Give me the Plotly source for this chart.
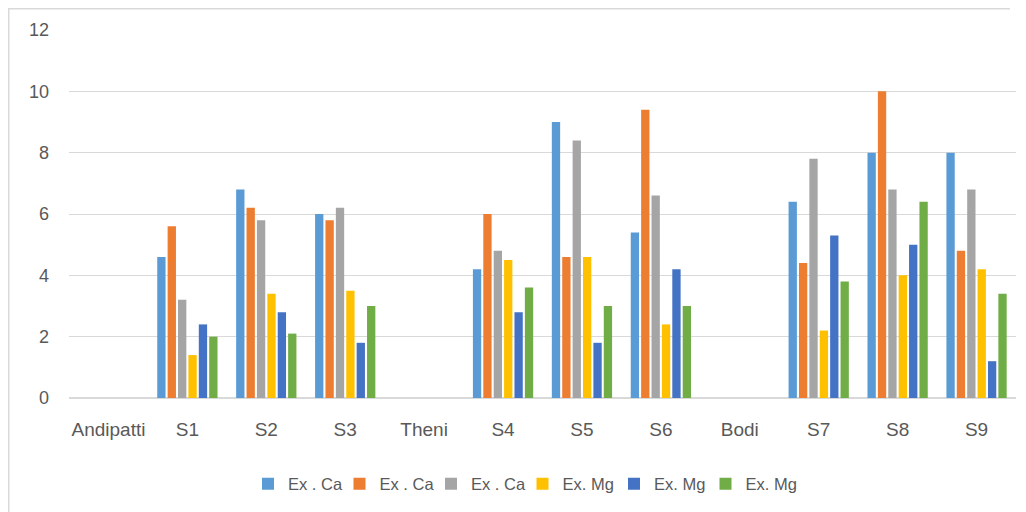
import plotly.graph_objects as go

categories = ["Andipatti", "S1", "S2", "S3", "Theni", "S4", "S5", "S6", "Bodi", "S7", "S8", "S9"]
series_names = ["Ex . Ca", "Ex . Ca", "Ex . Ca", "Ex. Mg", "Ex. Mg", "Ex. Mg"]
ca_1 = [None, 4.6, 6.8, 6.0, None, 4.2, 9.0, 5.4, None, 6.4, 8.0, 8.0]
ca_2 = [None, 5.6, 6.2, 5.8, None, 6.0, 4.6, 9.4, None, 4.4, 10.0, 4.8]
ca_3 = [None, 3.2, 5.8, 6.2, None, 4.8, 8.4, 6.6, None, 7.8, 6.8, 6.8]
mg_1 = [None, 1.4, 3.4, 3.5, None, 4.5, 4.6, 2.4, None, 2.2, 4.0, 4.2]
mg_2 = [None, 2.4, 2.8, 1.8, None, 2.8, 1.8, 4.2, None, 5.3, 5.0, 1.2]
mg_3 = [None, 2.0, 2.1, 3.0, None, 3.6, 3.0, 3.0, None, 3.8, 6.4, 3.4]
y_ticks = [0, 2, 4, 6, 8, 10, 12]

colors = ["#5B9BD5", "#ED7D31", "#A5A5A5", "#FFC000", "#4472C4", "#70AD47"]
values = [ca_1, ca_2, ca_3, mg_1, mg_2, mg_3]

FONT = "Liberation Sans, Arial, sans-serif"

fig = go.Figure()
for name, vals, col in zip(series_names, values, colors):
    fig.add_trace(go.Bar(x=categories, y=vals, name=name,
                         marker=dict(color=col, line=dict(width=0))))

# page body has an 8px default margin; work in figure coordinates
OFF = 8
W, H = 1026 - OFF, 512 - OFF
ml, mr, mt, mb = 69 - OFF, 10, 30 - OFF, 114
pw = W - ml - mr
ph = H - mt - mb

def px_x(p):  # p: figure x-pixel
    return (p - ml) / pw

def px_y(p):  # p: figure y-pixel
    return (H - mb - p) / ph

fig.update_layout(
    width=W, height=H,
    margin=dict(l=ml, r=mr, t=mt, b=mb, autoexpand=False),
    paper_bgcolor="white", plot_bgcolor="white",
    barmode="group", bargap=0.21, bargroupgap=0.2,
    font=dict(family=FONT, color="#595959"),
    xaxis=dict(type="category", showgrid=False, showline=False, zeroline=False,
               ticks="", tickfont=dict(size=19, color="#595959"),
               ticklabelstandoff=18),
    yaxis=dict(range=[0, 12], tickvals=y_ticks, showgrid=True, gridcolor="#D9D9D9",
               gridwidth=1, zeroline=True, zerolinecolor="#D9D9D9", zerolinewidth=2,
               showline=False, ticks="", tickfont=dict(size=18, color="#595959"),
               ticklabelstandoff=19),
    legend=dict(orientation="h", x=px_x(240), xanchor="left", y=px_y(484 - OFF), yanchor="middle",
                font=dict(size=16.5, color="#595959"), entrywidth=46.5, entrywidthmode="pixels",
                itemwidth=30, bgcolor="rgba(0,0,0,0)", traceorder="normal"),
    showlegend=True,
    shapes=[
        dict(type="line", xref="paper", yref="paper", x0=px_x(0), x1=px_x(1010 - OFF),
             y0=px_y(0.5), y1=px_y(0.5), line=dict(color="#D9D9D9", width=2)),
        dict(type="line", xref="paper", yref="paper", x0=px_x(0.5), x1=px_x(0.5),
             y0=px_y(0), y1=px_y(H + 10), line=dict(color="#D9D9D9", width=2)),
    ],
)

fig.write_html("out.html")
